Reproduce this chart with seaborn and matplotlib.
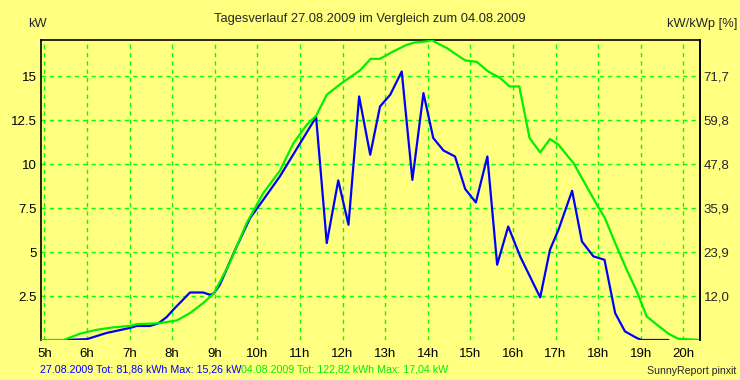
import matplotlib
matplotlib.use("Agg")
import matplotlib.pyplot as plt
import pandas as pd
import seaborn as sns

# 27.08.2009 (blue) - time in hours, power in kW
hours_27 = [5.45, 6.0, 6.46, 7.0, 7.17, 7.48, 7.68, 7.87, 8.03, 8.42, 8.73, 8.89, 8.98, 9.12,
            9.48, 9.83, 10.14, 10.53, 11.38, 11.63, 11.90, 12.14, 12.39, 12.65, 12.88, 13.12,
            13.39, 13.64, 13.90, 14.13, 14.37, 14.64, 14.88, 15.13, 15.40, 15.63, 15.89, 16.17,
            16.64, 16.87, 17.07, 17.39, 17.62, 17.89, 18.15, 18.40, 18.63, 18.91, 19.02, 19.65]
kw_27 = [0, 0.05, 0.4, 0.68, 0.8, 0.8, 0.95, 1.3, 1.73, 2.7, 2.7, 2.57, 2.65, 3.14,
         5.13, 6.93, 7.97, 9.3, 12.67, 5.51, 9.07, 6.55, 13.84, 10.53, 13.27, 13.94,
         15.26, 9.1, 14.03, 11.48, 10.77, 10.43, 8.58, 7.82, 10.43, 4.28, 6.45, 4.75,
         2.42, 5.13, 6.27, 8.48, 5.6, 4.75, 4.56, 1.53, 0.49, 0.11, 0, 0]

# 04.08.2009 (green)
hours_04 = [4.9, 5.45, 5.84, 6.23, 6.62, 7.01, 7.17, 7.68, 8.11, 8.42, 8.73, 8.98, 9.35, 9.75,
            10.14, 10.53, 10.85, 11.16, 11.38, 11.63, 11.98, 12.41, 12.66, 12.88, 13.19, 13.51,
            13.70, 13.98, 14.09, 14.45, 14.88, 15.15, 15.42, 15.70, 15.92, 16.15, 16.39, 16.64,
            16.87, 17.07, 17.26, 17.42, 17.73, 17.97, 18.16, 18.40, 18.67, 18.91, 19.14, 19.38,
            19.65, 19.88, 20.4]
kw_04 = [0, 0, 0.36, 0.58, 0.72, 0.8, 0.9, 0.95, 1.11, 1.53, 2.1, 2.65, 4.37, 6.65,
         8.35, 9.62, 11.19, 12.23, 12.74, 13.94, 14.6, 15.32, 15.98, 15.98, 16.4, 16.78,
         16.91, 16.97, 17.04, 16.59, 15.89, 15.81, 15.26, 14.89, 14.41, 14.41, 11.48, 10.66,
         11.42, 11.10, 10.53, 10.06, 8.73, 7.69, 6.93, 5.51, 4.0, 2.76, 1.34, 0.87,
         0.36, 0.07, 0]

x_ticks = list(range(5, 21))
x_labels = [f"{h}h" for h in x_ticks]
y_ticks = [2.5, 5, 7.5, 10, 12.5, 15]
y_labels = ["2.5", "5", "7.5", "10", "12.5", "15"]
y2_labels = ["12,0", "23,9", "35,9", "47,8", "59,8", "71,7"]

bg = "#FFFF80"
sns.set_style("white")
plt.rcParams["font.family"] = ["Liberation Sans", "DejaVu Sans"]

fig = plt.figure(figsize=(7.4, 3.8), dpi=100, facecolor=bg)
W, H = 740, 380
ax = fig.add_axes([40.5 / W, (380 - 340) / H, 659 / W, 300 / H])
ax.set_facecolor(bg)

df27 = pd.DataFrame({"h": hours_27, "kw": kw_27})
df04 = pd.DataFrame({"h": hours_04, "kw": kw_04})
sns.lineplot(data=df27, x="h", y="kw", color="#0000FF", linewidth=1.6, sort=False, ax=ax, zorder=3)
sns.lineplot(data=df04, x="h", y="kw", color="#00F000", linewidth=1.6, sort=False, ax=ax, zorder=4)

ax.set_xlim(4.91, 20.38)
ax.set_ylim(0, 17.05)
ax.set_xticks(x_ticks)
ax.set_xticklabels(x_labels)
ax.set_yticks(y_ticks)
ax.set_yticklabels(y_labels)
ax.set_xlabel("")
ax.set_ylabel("")
ax.grid(True, color="#00FF00", linestyle=(0, (3, 3)), linewidth=1)
ax.tick_params(axis="both", length=0, labelsize=9.5, colors="black")
ax.tick_params(axis="x", pad=6)
ax.tick_params(axis="y", pad=3)
for side in ["left", "top", "right"]:
    ax.spines[side].set_color("black")
    ax.spines[side].set_linewidth(1.2)
ax.spines["bottom"].set_visible(False)

ax2 = ax.twinx()
ax2.set_ylim(ax.get_ylim())
ax2.set_yticks(y_ticks)
ax2.set_yticklabels(y2_labels)
ax2.tick_params(axis="y", length=0, labelsize=9.5, pad=3)
ax2.spines["bottom"].set_visible(False)
ax2.spines["left"].set_visible(False)
ax2.spines["top"].set_visible(False)
ax2.spines["right"].set_color("black")
ax2.spines["right"].set_linewidth(1.2)
ax2.grid(False)

fig.text(370 / W, 1 - 19 / H, "Tagesverlauf 27.08.2009 im Vergleich zum 04.08.2009",
         ha="center", va="center", fontsize=9.3)
fig.text(28 / W, 1 - 24 / H, "kW", ha="left", va="center", fontsize=9.3)
fig.text(737 / W, 1 - 24 / H, "kW/kWp [%]", ha="right", va="center", fontsize=9.3)

t1 = fig.text(40 / W, 1 - 369 / H, "27.08.2009 Tot: 81,86 kWh Max: 15,26 kW",
              ha="left", va="center", fontsize=7.7, color="#0000FF")
fig.canvas.draw()
bb = t1.get_window_extent()
fig.text(bb.x1 / W, 1 - 369 / H, "04.08.2009 Tot: 122,82 kWh Max: 17,04 kW",
         ha="left", va="center", fontsize=7.7, color="#00F000")
fig.text(736 / W, 1 - 371 / H, "SunnyReport pinxit", ha="right", va="center", fontsize=7.6)

fig.savefig("out.png", dpi=100, facecolor=bg)
